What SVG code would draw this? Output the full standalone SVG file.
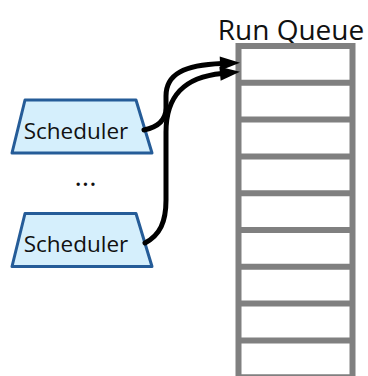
<svg xmlns="http://www.w3.org/2000/svg" width="368" height="376" viewBox="0 0 368 376">
<defs>
<style>
.sched{fill:#d5effc;stroke:#255c98;stroke-width:3;stroke-linejoin:round}
.lbl{font-family:"Open Sans","Noto Sans",sans-serif;fill:#111}
.q{fill:none;stroke:#808080;stroke-width:6}
.conn{fill:none;stroke:#000;stroke-width:5;stroke-linecap:round}
</style>
<marker id="ah" markerUnits="userSpaceOnUse" markerWidth="20" markerHeight="14" refX="2" refY="7" orient="auto" overflow="visible">
<path d="M0,0 L20,7 L0,14 z" fill="#000"/>
</marker>
</defs>
<g id="runqueue">
<text class="lbl" x="291" y="39.5" font-size="28" text-anchor="middle">Run Queue</text>
<rect class="q" x="238.5" y="46" width="114" height="340"/>
<path class="q" d="M238.5,82.8H352.5M238.5,119.6H352.5M238.5,156.4H352.5M238.5,193.2H352.5M238.5,230H352.5M238.5,266.8H352.5M238.5,303.6H352.5M238.5,340.4H352.5M238.5,377.2H352.5"/>
</g>
<g id="scheduler1">
<polygon class="sched" points="25,100 136,100 152,153 12,153"/>
<text class="lbl" x="76" y="139" font-size="22.5" text-anchor="middle">Scheduler</text>
</g>
<g id="scheduler2">
<polygon class="sched" points="25,213.5 136,213.5 152,266.5 12,266.5"/>
<text class="lbl" x="76" y="252" font-size="22.5" text-anchor="middle">Scheduler</text>
</g>
<g id="ellipsis">
<text class="lbl" x="85.5" y="185.5" font-size="28" text-anchor="middle">...</text>
</g>
<g id="connectors">
<path class="conn" marker-end="url(#ah)" d="M144,130 C158,127 166,120 166,108 L166,96 C166,74 184,65 222,63.5"/>
<path class="conn" marker-end="url(#ah)" d="M145,243 C160,235 166,222 166,200 L166,132 C166,96 184,77 222,73.5"/>
</g>
</svg>
